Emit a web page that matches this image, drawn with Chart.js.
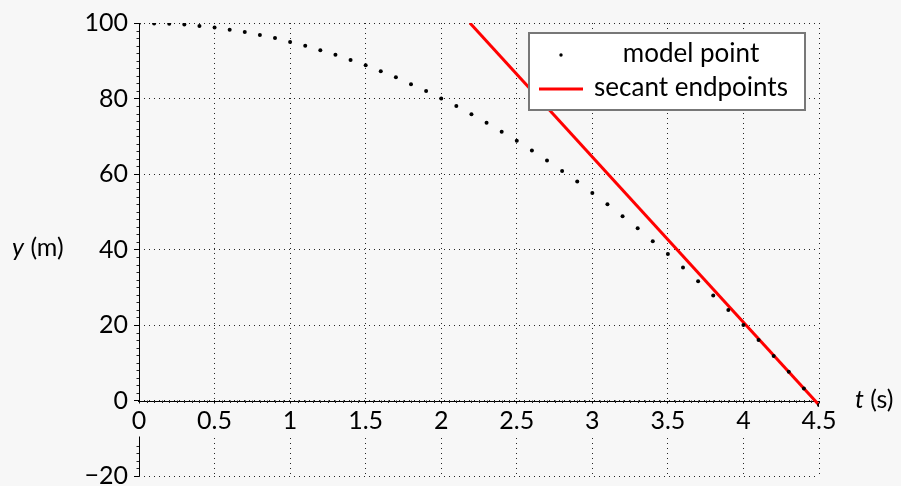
<!DOCTYPE html>
<html>
<head>
<meta charset="utf-8">
<script src="https://cdn.jsdelivr.net/npm/chart.js@4.4.1/dist/chart.umd.min.js"></script>
<style>
  html, body { margin: 0; padding: 0; background: #f7f7f7; }
  canvas { display: block; }
</style>
</head>
<body>
<canvas id="c" width="901" height="486"></canvas>
<script>
// ---- data ----
const modelTimes = [0,0.1,0.2,0.3,0.4,0.5,0.6,0.7,0.8,0.9,1.0,1.1,1.2,1.3,1.4,1.5,1.6,1.7,1.8,1.9,2.0,2.1,2.2,2.3,2.4,2.5,2.6,2.7,2.8,2.9,3.0,3.1,3.2,3.3,3.4,3.5,3.6,3.7,3.8,3.9,4.0,4.1,4.2,4.3,4.4,4.5];
const modelHeights = [100,99.9,99.8,99.6,99.2,98.8,98.2,97.6,96.8,96.0,95.0,94.0,92.8,91.6,90.2,88.8,87.2,85.6,83.8,82.0,80.0,78.0,75.8,73.6,71.2,68.8,66.2,63.6,60.8,58.0,55.0,52.0,48.8,45.6,42.2,38.8,35.2,31.6,27.8,24.0,20.0,16.0,11.8,7.6,3.2,-1.2];
const secantTimes = [2.19, 4.5];
const secantHeights = [100, -1.2];
const seriesLabels = ["model point", "secant endpoints"];
const xTickValues = [0,0.5,1,1.5,2,2.5,3,3.5,4,4.5];
const yTickValues = [-20,0,20,40,60,80,100];
const xAxisTitle = ["t", " (s)"];
const yAxisTitle = ["y", " (m)"];

const BG = '#f7f7f7';
const FONT = 'Lato, "DejaVu Sans", sans-serif';

const modelData = modelTimes.map((t, i) => ({x: t, y: modelHeights[i]}));
const secantData = secantTimes.map((t, i) => ({x: t, y: secantHeights[i]}));

function fmt(v) {
  const s = String(Math.round(v * 100) / 100);
  return s.replace('-', '\u2212');
}

const extras = {
  id: 'extras',
  beforeDraw(chart) {
    // solid axis lines (under grid and tick-label backdrops)
    const ctx = chart.ctx;
    const area = chart.chartArea;
    const xs = chart.scales.x, ys = chart.scales.y;
    const x0 = Math.round(xs.getPixelForValue(0)) + 0.5;
    const y0 = Math.round(ys.getPixelForValue(0)) + 0.5;
    ctx.save();
    ctx.strokeStyle = '#000';
    ctx.lineWidth = 1;
    ctx.beginPath();
    ctx.moveTo(x0, area.top);
    ctx.lineTo(x0, area.bottom);
    ctx.moveTo(area.left - 1, y0);
    ctx.lineTo(area.right, y0);
    ctx.stroke();
    ctx.restore();
  },
  beforeDatasetsDraw(chart) {
    const ctx = chart.ctx;
    const xs = chart.scales.x, ys = chart.scales.y;
    const x0 = xs.getPixelForValue(0);
    const y0 = ys.getPixelForValue(0);
    ctx.save();
    ctx.strokeStyle = '#222';
    ctx.lineWidth = 1;
    ctx.beginPath();
    // minor ticks on x axis (every 0.05)
    for (let i = 1; i < 90; i++) {
      if (i % 10 === 0) continue;
      const px = Math.round(xs.getPixelForValue(i * 0.05)) + 0.5;
      ctx.moveTo(px, y0);
      ctx.lineTo(px, y0 + 2.5);
    }
    // minor ticks on y axis (every 2)
    for (let v = -18; v < 100; v += 2) {
      if (v % 20 === 0) continue;
      if (v < 0 && v > -12) continue;
      const py = Math.round(ys.getPixelForValue(v)) + 0.5;
      ctx.moveTo(x0 - 2.5, py);
      ctx.lineTo(x0, py);
    }
    ctx.stroke();
    ctx.restore();
  },
  afterDraw(chart) {
    const ctx = chart.ctx;
    const area = chart.chartArea;
    const ys = chart.scales.y;
    ctx.save();
    ctx.fillStyle = '#000';
    ctx.textBaseline = 'middle';
    ctx.textAlign = 'left';
    const drawTitle = (parts, x, y) => {
      ctx.font = 'italic 25px ' + FONT;
      ctx.fillText(parts[0], x, y);
      const w = ctx.measureText(parts[0]).width;
      ctx.font = '25px ' + FONT;
      ctx.fillText(parts[1], x + w, y);
    };
    drawTitle(xAxisTitle, area.right + 36, ys.getPixelForValue(0) - 1);
    drawTitle(yAxisTitle, 12, ys.getPixelForValue(40) - 2);

    // legend box
    const bx = area.right - 290, by = area.top + 10, bw = 276, bh = 77;
    ctx.fillStyle = '#ffffff';
    ctx.fillRect(bx, by, bw, bh);
    ctx.strokeStyle = '#777';
    ctx.lineWidth = 2;
    ctx.strokeRect(bx, by, bw, bh);
    ctx.fillStyle = '#000';
    ctx.beginPath();
    ctx.arc(bx + 32, by + 22, 1.7, 0, Math.PI * 2);
    ctx.fill();
    ctx.strokeStyle = '#ff0000';
    ctx.lineWidth = 3;
    ctx.beginPath();
    ctx.moveTo(bx + 10, by + 56);
    ctx.lineTo(bx + 54, by + 56);
    ctx.stroke();
    ctx.fillStyle = '#000';
    ctx.font = '26px ' + FONT;
    ctx.textAlign = 'center';
    ctx.fillText(seriesLabels[0], bx + 162, by + 21);
    ctx.fillText(seriesLabels[1], bx + 162, by + 55);
    ctx.restore();
  }
};

new Chart(document.getElementById('c'), {
  type: 'scatter',
  data: {
    datasets: [
      {
        label: seriesLabels[0],
        data: modelData,
        showLine: false,
        pointRadius: 2,
        pointBackgroundColor: '#000',
        pointBorderWidth: 0,
        pointHoverRadius: 2
      },
      {
        label: seriesLabels[1],
        data: secantData,
        showLine: true,
        borderColor: '#ff0000',
        borderWidth: 3,
        pointRadius: 0,
        pointHoverRadius: 0,
        fill: false
      }
    ]
  },
  options: {
    responsive: false,
    animation: false,
    devicePixelRatio: 1,
    events: [],
    layout: { padding: { top: 23, right: 82, bottom: 10, left: 0 } },
    plugins: {
      legend: { display: false },
      tooltip: { enabled: false }
    },
    scales: {
      x: {
        type: 'linear',
        position: { y: 0 },
        min: 0, max: 4.5,
        afterBuildTicks(s) { s.ticks = xTickValues.map(v => ({value: v})); },
        afterFit(s) { s.paddingLeft = 0; s.paddingRight = 0; },
        grid: {
          color: 'rgba(0,0,0,0.85)',
          lineWidth: 1,
          drawTicks: true,
          tickLength: 3,
          tickColor: '#000',
          tickWidth: 1,
          z: -1
        },
        border: { display: false, dash: [1, 4] },
        ticks: {
          color: '#000',
          font: { family: FONT, size: 25 },
          padding: 2,
          maxRotation: 0,
          autoSkip: false,
          callback: (v) => fmt(v),
          showLabelBackdrop: true,
          backdropColor: BG,
          backdropPadding: { top: 2, bottom: 1, left: 2, right: 2 },
          z: 0
        }
      },
      y: {
        type: 'linear',
        position: 'left',
        min: -20, max: 100,
        afterBuildTicks(s) { s.ticks = yTickValues.map(v => ({value: v})); },
        afterFit(s) { s.width = 139; s.paddingTop = 0; s.paddingBottom = 0; },
        grid: {
          color: 'rgba(0,0,0,0.85)',
          lineWidth: 1,
          drawTicks: true,
          tickLength: 5,
          tickColor: '#000',
          tickWidth: 1,
          z: -1
        },
        border: { display: false, dash: [1, 4] },
        ticks: {
          color: '#000',
          font: { family: FONT, size: 25 },
          padding: 6,
          autoSkip: false,
          callback: (v) => fmt(v)
        }
      }
    }
  },
  plugins: [extras]
});
</script>
</body>
</html>
